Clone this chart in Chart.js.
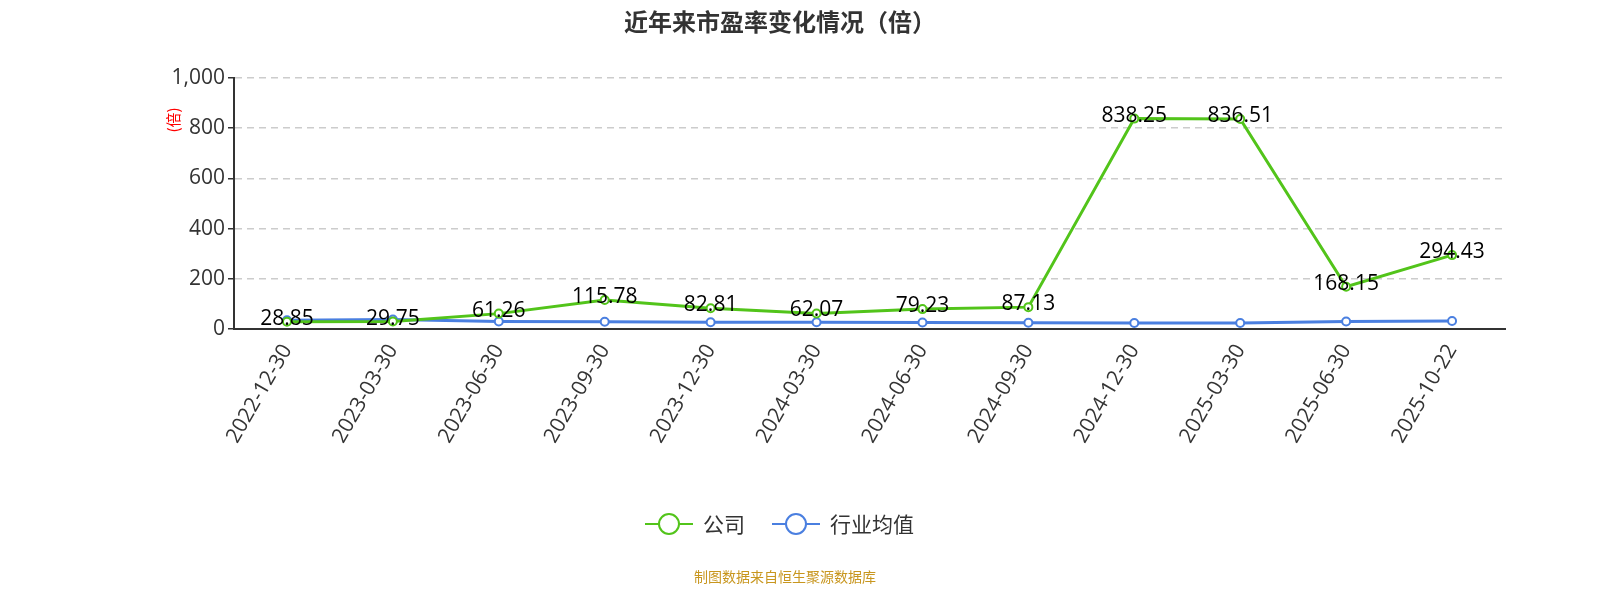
<!DOCTYPE html>
<html><head><meta charset="utf-8">
<script src="https://cdn.jsdelivr.net/npm/chart.js@4"></script>
<style>body{margin:0;background:#fff;overflow:hidden}</style>
</head><body><canvas id="grafico" width="1600" height="600"></canvas>
<script>
const categorias = ["2022-12-30","2023-03-30","2023-06-30","2023-09-30","2023-12-30","2024-03-30","2024-06-30","2024-09-30","2024-12-30","2025-03-30","2025-06-30","2025-10-22"];
const empresa = [28.85, 29.75, 61.26, 115.78, 82.81, 62.07, 79.23, 87.13, 838.25, 836.51, 168.15, 294.43];
const mediaSetor = [35, 38, 30, 29, 27, 27, 26, 25, 24, 24, 30, 32];
const ticksY = [0, 200, 400, 600, 800, 1000];

const FONTE = "'Open Sans','Noto Sans CJK SC',sans-serif";

const extras = {
    id: "extras",
    afterDatasetsDraw(chart) {
        const c = chart.ctx;
        const meta = chart.getDatasetMeta(0);
        c.save();
        c.font = "21px " + FONTE;
        c.fillStyle = "#000";
        c.textAlign = "center";
        c.textBaseline = "middle";
        meta.data.forEach((p, i) => c.fillText(empresa[i].toFixed(2), p.x, p.y - 3));
        c.restore();
    },
    afterDraw(chart) {
        const c = chart.ctx;
        c.save();
        c.textAlign = "center";
        c.textBaseline = "middle";
        c.font = "bold 24px 'Noto Sans CJK SC',sans-serif";
        c.fillStyle = "#333";
        c.fillText("近年来市盈率变化情况（倍）", 780, 22);
        c.font = "14px 'Noto Sans CJK SC',sans-serif";
        c.fillStyle = "#c8961e";
        c.fillText("制图数据来自恒生聚源数据库", 785, 577);
        c.save();
        c.translate(173, 120);
        c.rotate(-Math.PI / 2);
        c.font = "15px 'Noto Sans CJK SC',sans-serif";
        c.fillStyle = "red";
        c.fillText("(倍)", 0, 0);
        c.restore();
        const itens = [["公司", "#52c41a", 645], ["行业均值", "#4a7fe0", 772]];
        c.font = "21px 'Noto Sans CJK SC',sans-serif";
        c.textAlign = "left";
        itens.forEach(([txt, cor, x]) => {
            c.strokeStyle = cor;
            c.lineWidth = 2;
            c.beginPath(); c.moveTo(x, 524); c.lineTo(x + 48, 524); c.stroke();
            c.beginPath(); c.arc(x + 24, 524, 10, 0, Math.PI * 2);
            c.fillStyle = "#fff"; c.fill(); c.stroke();
            c.fillStyle = "#333";
            c.fillText(txt, x + 58, 524);
        });
        c.restore();
    }
};

new Chart(document.getElementById("grafico"), {
    type: "line",
    data: {
        labels: categorias,
        datasets: [
            { label: "公司", data: empresa, borderColor: "#52c41a", backgroundColor: "#fff", borderWidth: 3, pointRadius: 4, pointBorderWidth: 2, tension: 0 },
            { label: "行业均值", data: mediaSetor, borderColor: "#4a7fe0", backgroundColor: "#fff", borderWidth: 3, pointRadius: 4, pointBorderWidth: 2, tension: 0 }
        ]
    },
    options: {
        responsive: false,
        animation: false,
        layout: { padding: { top: 78, right: 95, left: 0, bottom: 0 } },
        plugins: { legend: { display: false }, title: { display: false }, tooltip: { enabled: false } },
        scales: {
            x: {
                offset: true,
                grid: { display: false, drawTicks: true, tickLength: 8, tickColor: "#333", offset: true },
                border: { color: "#333", width: 2 },
                ticks: { color: "#333", font: { size: 21, family: FONTE }, maxRotation: 60, minRotation: 60 },
                afterFit(s) { s.height = 271; }
            },
            y: {
                min: 0, max: 1000,
                afterBuildTicks(s) { s.ticks = ticksY.map(v => ({ value: v })); },
                grid: { color: "#ccc", tickLength: 6, tickColor: "#333", lineWidth: 1.5 },
                border: { color: "#333", width: 2, display: true, dash: [7, 5] },
                ticks: { color: "#333", font: { size: 21, family: FONTE }, callback: v => v.toLocaleString("en-US") },
                afterFit(s) { s.width = 234; }
            }
        }
    },
    plugins: [extras]
});
</script></body></html>
